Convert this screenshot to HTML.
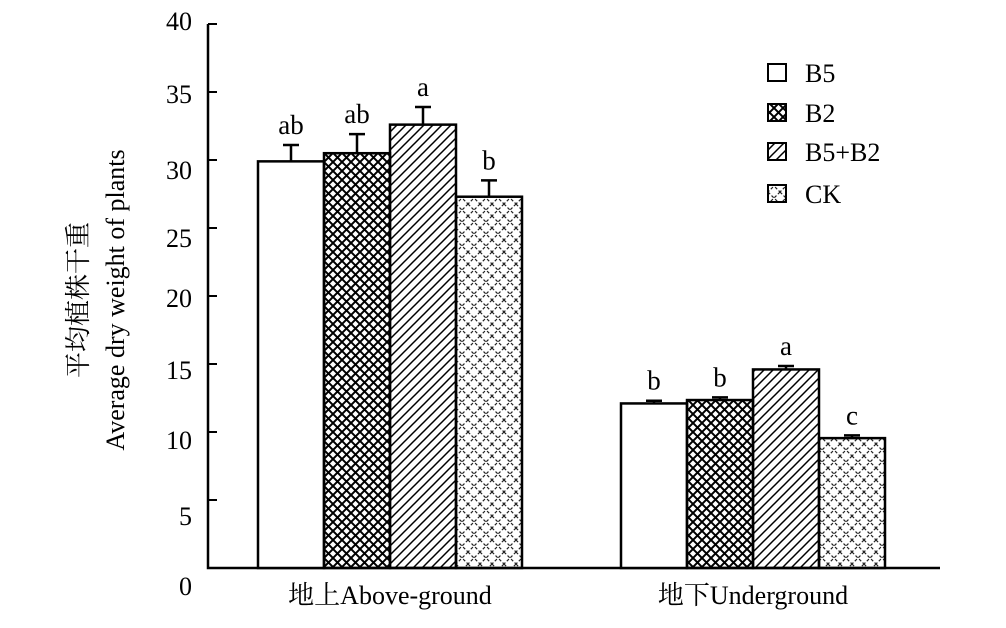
<!DOCTYPE html>
<html><head><meta charset="utf-8"><style>
body{margin:0;background:#fff;}
svg{display:block;font-family:"Liberation Serif","Noto Serif CJK SC",serif;}
</style></head><body>
<svg id="chart" width="1006" height="628" viewBox="0 0 1006 628">
<defs>
<pattern id="pB2" patternUnits="userSpaceOnUse" width="9" height="9"><path d="M0,0L9,9M9,0L0,9" stroke="#000" stroke-width="2"/></pattern>
<pattern id="pB5B2" patternUnits="userSpaceOnUse" width="9" height="9"><path d="M-2,11L11,-2M-2,2L2,-2M7,11L11,7" stroke="#000" stroke-width="1.5"/></pattern>
<pattern id="pCK" patternUnits="userSpaceOnUse" width="12" height="12"><path d="M0,0L12,12M12,0L0,12" stroke="#222" stroke-width="1.2" stroke-dasharray="3,2"/></pattern>
</defs>
<g id="axes"></g>
<g id="bars"></g>
<g id="legend"></g>
<text transform="translate(87,300) rotate(-90)" text-anchor="middle" font-size="26">平均植株干重</text>
<text transform="translate(124,300) rotate(-90)" text-anchor="middle" font-size="26">Average dry weight of plants</text>
</svg>
<script>
const categories = ["地上Above-ground", "地下Underground"];
const seriesNames = ["B5", "B2", "B5+B2", "CK"];
const valuesB5 = [29.9, 12.1];
const valuesB2 = [30.5, 12.35];
const valuesB5B2 = [32.6, 14.6];
const valuesCK = [27.3, 9.55];
const errB5 = [1.2, 0.2];
const errB2 = [1.4, 0.2];
const errB5B2 = [1.3, 0.25];
const errCK = [1.2, 0.2];
const lettersB5 = ["ab", "b"];
const lettersB2 = ["ab", "b"];
const lettersB5B2 = ["a", "a"];
const lettersCK = ["b", "c"];
const yTicks = [0, 5, 10, 15, 20, 25, 30, 35, 40];
const yTickLabels = ["0", "5", "10", "15", "20", "25", "30", "35", "40"];

const NS = "http://www.w3.org/2000/svg";
const x0 = 208, y0 = 568, yTop = 24, yMax = 40;
const y = v => y0 - (v / yMax) * (y0 - yTop);
const groupStart = [258, 621], barW = 66;
const fills = ["#fff", "url(#pB2)", "url(#pB5B2)", "url(#pCK)"];
const allVals = [valuesB5, valuesB2, valuesB5B2, valuesCK];
const allErr = [errB5, errB2, errB5B2, errCK];
const allLet = [lettersB5, lettersB2, lettersB5B2, lettersCK];
const labelOffsets = [27, 25, 17, 15, 11, 19, 19, 11, 6];
function mk(tag, attrs, parent){const e=document.createElementNS(NS,tag);for(const k in attrs)e.setAttribute(k,attrs[k]);parent.appendChild(e);return e;}
const axes = document.getElementById("axes");
const ax = mk("path",{d:`M${x0},${yTop}V${y0}H${940}`,stroke:"#000","stroke-width":2.5,fill:"none"},axes);


yTicks.forEach((t,i)=>{
  const tk = mk("line",{x1:x0,x2:x0+9,y1:y(t),y2:y(t),stroke:"#000","stroke-width":2},axes);
  
  
  const lb = mk("text",{x:192,y:y(t)+labelOffsets[i],"text-anchor":"end","font-size":26},axes);
  
  
  lb.textContent = yTickLabels[i];
});
const bars = document.getElementById("bars");
categories.forEach((c,gi)=>{
  const cl = mk("text",{x:groupStart[gi]+2*barW,y:604,"text-anchor":"middle","font-size":26},axes);
  
  
  cl.textContent = c;
  for(let s=0;s<4;s++){
    const v = allVals[s][gi], e = allErr[s][gi];
    const bx = groupStart[gi]+s*barW, cx = bx+barW/2;
    const r = mk("rect",{x:bx,y:y(v),width:barW,height:y0-y(v),fill:fills[s],stroke:"#000","stroke-width":2.5},bars);
    
    
    const eb = mk("path",{d:`M${cx},${y(v)}V${y(v+e)}M${cx-8},${y(v+e)}H${cx+8}`,stroke:"#000","stroke-width":2.5},bars);
    
    
    const lt = mk("text",{x:cx,y:y(v+e)-11,"text-anchor":"middle","font-size":27},bars);
    
    
    lt.textContent = allLet[s][gi];
  }
});
const legend = document.getElementById("legend");
const legY = [73, 113, 152, 194];
seriesNames.forEach((n,i)=>{
  const b = mk("rect",{x:768,y:legY[i]-9,width:18,height:17,fill:fills[i],stroke:"#000","stroke-width":2},legend);
  
  
  const t = mk("text",{x:805,y:legY[i]+9,"font-size":26},legend);
  
  
  t.textContent = n;
});
</script>
</body></html>
